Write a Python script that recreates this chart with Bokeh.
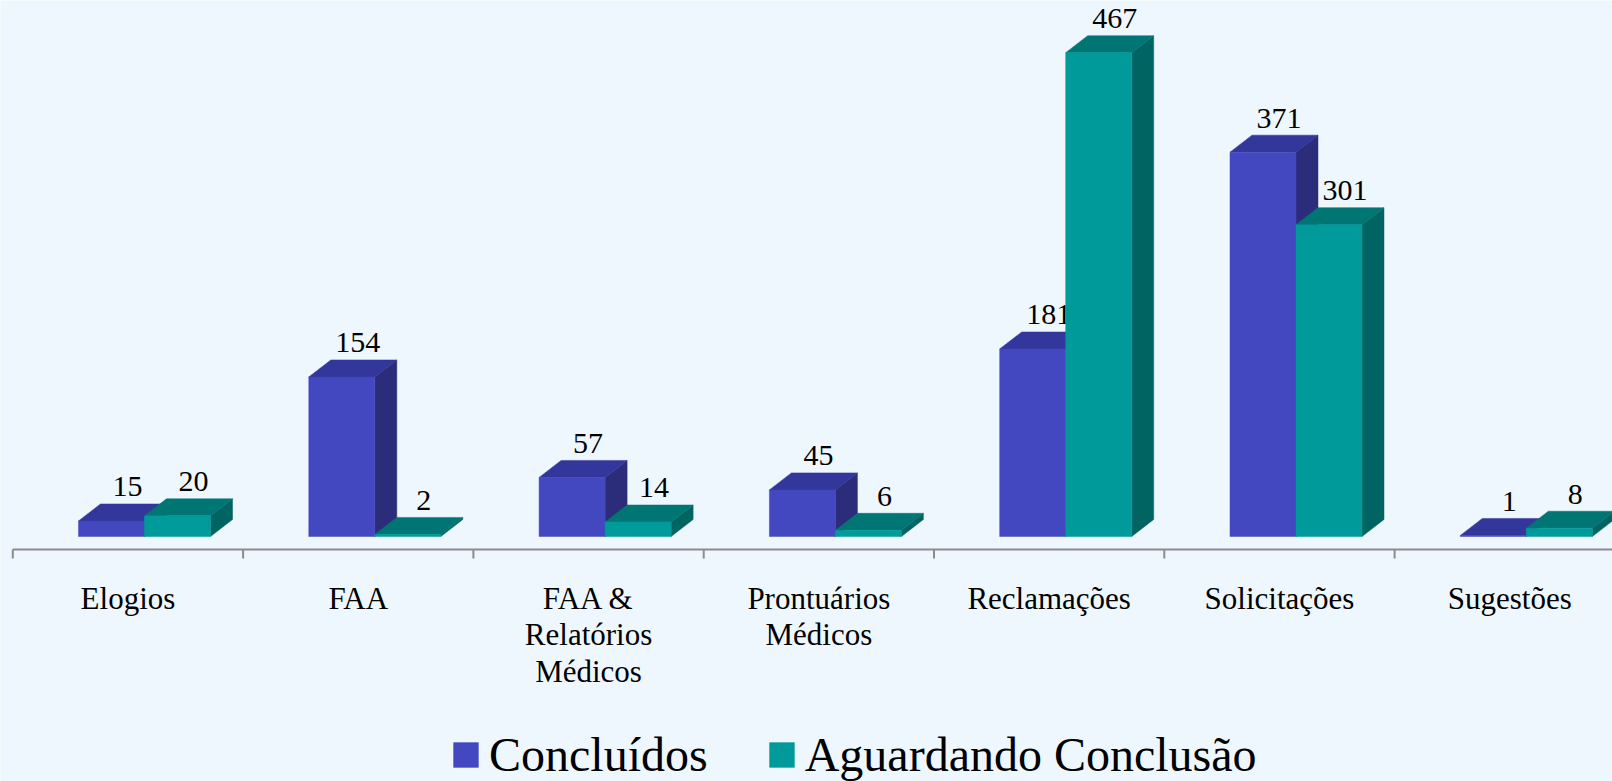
import numpy as np
from bokeh.plotting import figure
from bokeh.models import ColumnDataSource, Legend, LegendItem, Range1d
from bokeh.core.properties import value
from bokeh.embed import file_html
from bokeh.resources import INLINE

# ---- data ----
categories = ["Elogios", "FAA", "FAA &\nRelatórios\nMédicos", "Prontuários\nMédicos",
              "Reclamações", "Solicitações", "Sugestões"]
concluidos = [15, 154, 57, 45, 181, 371, 1]
aguardando = [20, 2, 14, 6, 467, 301, 8]
series_names = ["Concluídos", "Aguardando Conclusão"]

# ---- styles / layout ----
W, H = 1612, 781
PX_CAT = 230.3          # px per category
PX_UNIT = 1.036         # px per value unit
BASE_PX = 536           # screen y of value 0 (from top of figure)
X0_PX = 127.45          # screen x of first category center
x_start = -X0_PX / PX_CAT
x_end = x_start + W / PX_CAT
y_end = BASE_PX / PX_UNIT
y_start = y_end - H / PX_UNIT

bar_w = 66 / PX_CAT
bar_left0 = -49.45 / PX_CAT
dx = 22 / PX_CAT
dy = 17 / PX_UNIT

BG = "#EEF7FE"
front_cols = ["#4348C0", "#009A9A"]
top_cols = ["#33369A", "#007674"]
side_cols = ["#2C2D7A", "#006562"]
FONT = value("Liberation Serif")

p = figure(width=W, height=H, output_backend="svg", toolbar_location=None,
           x_axis_type=None, y_axis_type=None, min_border=0,
           x_range=Range1d(x_start, x_end), y_range=Range1d(y_start, y_end))
p.background_fill_color = BG
p.border_fill_color = BG
p.outline_line_color = None
p.grid.visible = False

# axis line and ticks
axis_y = -13 / PX_UNIT
tick_len = 9 / PX_UNIT
n = len(categories)
p.segment(x0=[-0.5], x1=[x_end], y0=[axis_y], y1=[axis_y], line_color="#8C8C8C", line_width=2)
tx = np.arange(n + 1) - 0.5
p.segment(x0=tx, x1=tx, y0=[axis_y] * (n + 1), y1=[axis_y - tick_len] * (n + 1),
          line_color="#8C8C8C", line_width=2)

front_renderers = []
for s, vals in enumerate([concluidos, aguardando]):
    idx = np.arange(n)
    left = idx + bar_left0 + s * bar_w
    right = left + bar_w
    top = np.array(vals, dtype=float)
    side_src = ColumnDataSource(dict(
        xs=[[r, r + dx, r + dx, r] for r in right],
        ys=[[0, dy, t + dy, t] for t in top]))
    top_src = ColumnDataSource(dict(
        xs=[[l, r, r + dx, l + dx] for l, r in zip(left, right)],
        ys=[[t, t, t + dy, t + dy] for t in top]))
    p.patches("xs", "ys", source=side_src, fill_color=side_cols[s], line_color=side_cols[s], line_width=0.5)
    p.patches("xs", "ys", source=top_src, fill_color=top_cols[s], line_color=top_cols[s], line_width=0.5)
    fr = p.quad(left=left, right=right, bottom=np.zeros(n), top=top,
                fill_color=front_cols[s], line_color=front_cols[s], line_width=0.5)
    front_renderers.append(fr)
    lab_src = ColumnDataSource(dict(x=left + bar_w / 2 + 16 / PX_CAT, y=top + dy,
                                    t=[str(v) for v in vals]))
    p.text(x="x", y="y", text="t", source=lab_src, text_font=FONT, text_font_size="30px",
           text_color="black", text_align="center", text_baseline="alphabetic", y_offset=-17)

# category labels (multi-line)
cx, cy, ct, coff = [], [], [], []
for i, c in enumerate(categories):
    for j, line in enumerate(c.split("\n")):
        cx.append(i)
        cy.append(0)
        ct.append(line)
        coff.append(61.7 + j * 36.7)
cat_src = ColumnDataSource(dict(x=cx, y=cy, t=ct, off=coff))
p.text(x="x", y="y", text="t", y_offset="off", source=cat_src, text_font=FONT,
       text_font_size="31px", text_color="black", text_align="center",
       text_baseline="alphabetic")

legend = Legend(items=[LegendItem(label=series_names[k], renderers=[front_renderers[k]]) for k in range(2)],
                orientation="horizontal", location=(450, -1),
                label_text_font="Liberation Serif", label_text_font_size="48px",
                label_text_color="black", glyph_width=31, glyph_height=31,
                label_standoff=8, spacing=58, padding=0, margin=0,
                border_line_alpha=0, background_fill_alpha=0)
p.add_layout(legend, "center")

open("out.html", "w").write(file_html(p, INLINE))
